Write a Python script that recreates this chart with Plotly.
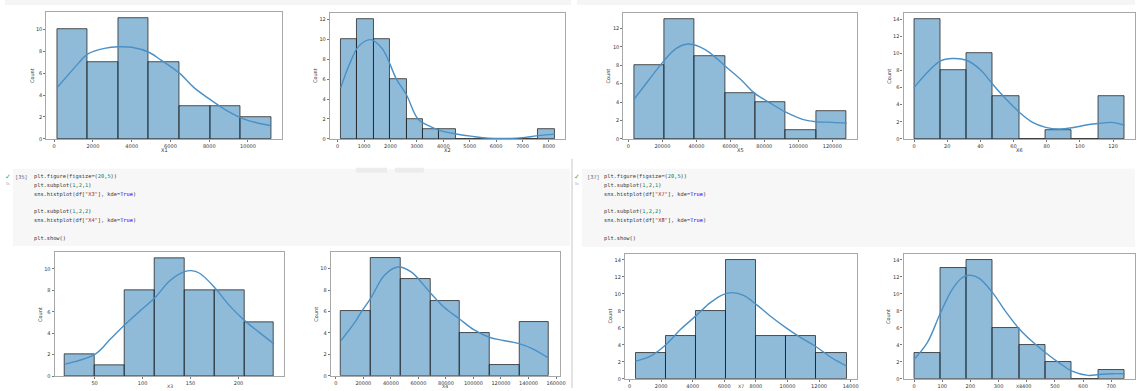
import plotly.graph_objects as go

W, H = 1141, 391

# ---------------- data ----------------
x1_edges = [153, 1730, 3307, 4884, 6461, 8039, 9616, 11193]
x1_counts = [10, 7, 11, 7, 3, 3, 2]
x1_kde_x = [153, 900, 1300, 1738, 2600, 3300, 4000, 4884, 5500, 6461, 7200, 8039, 8800, 9616, 10400, 11193]
x1_kde_y = [4.68, 6.2, 7.0, 7.75, 8.25, 8.4, 8.35, 7.9, 7.2, 6.0, 4.7, 3.6, 2.7, 1.95, 1.5, 1.2]

x2_edges = [113, 736, 1360, 1983, 2606, 3230, 3853, 4476, 5100, 5723, 6346, 6969, 7593, 8216]
x2_counts = [10, 12, 10, 6, 2, 1, 1, 0, 0, 0, 0, 0, 1]
x2_kde_x = [113, 450, 800, 1250, 1700, 2225, 2600, 3040, 3500, 3857, 4485, 5113, 5700, 6500, 7100, 7600, 8216]
x2_kde_y = [5.1, 7.5, 9.3, 9.95, 9.0, 6.0, 4.45, 2.0, 1.25, 0.85, 0.5, 0.25, 0.08, 0.05, 0.15, 0.33, 0.48]

x5_edges = [3300, 21170, 39040, 56910, 74790, 92660, 110530, 128400]
x5_counts = [8, 13, 9, 5, 4, 1, 3]
x5_kde_x = [3300, 12000, 21000, 28000, 35000, 42000, 48000, 57000, 67000, 74000, 83000, 92700, 102000, 110400, 120000, 128400]
x5_kde_y = [4.3, 6.4, 8.5, 9.8, 10.3, 10.0, 9.35, 7.9, 6.3, 5.0, 3.95, 2.9, 2.15, 1.87, 1.8, 1.7]

x6_edges = [0, 15.9, 31.7, 47.6, 63.5, 79.3, 95.2, 111.0, 126.9]
x6_counts = [14, 8, 10, 5, 0, 1, 0, 5]
x6_kde_x = [0, 15.8, 23.7, 31.6, 40, 47.8, 55.7, 63.6, 71.5, 79.4, 87.4, 95.3, 103, 111, 119, 126.9]
x6_kde_y = [6.0, 9.1, 9.4, 9.2, 8.1, 6.3, 4.6, 3.1, 1.93, 1.35, 1.16, 1.3, 1.6, 1.8, 1.93, 1.6]

x3_edges = [19.3, 50.4, 81.5, 112.7, 143.8, 174.9, 206.0, 237.1]
x3_counts = [2, 1, 8, 11, 8, 8, 5]
x3_kde_x = [19.4, 50.7, 66.5, 82.3, 97.5, 113.3, 128.4, 143.9, 150.8, 159.4, 174.9, 190.4, 206.2, 221.3, 237.1]
x3_kde_y = [1.12, 2.05, 3.46, 4.86, 6.1, 7.35, 8.9, 9.75, 9.84, 9.6, 8.3, 6.6, 5.2, 4.1, 3.0]

x4_edges = [3880, 25470, 47060, 68650, 90240, 111830, 133410, 155000]
x4_counts = [6, 11, 9, 7, 4, 1, 5]
x4_kde_x = [3840, 13900, 18700, 25200, 35500, 45100, 54700, 68300, 78700, 89900, 100200, 111500, 121800, 133100, 143400, 154700]
x4_kde_y = [3.3, 5.0, 6.0, 7.2, 9.4, 10.15, 9.7, 7.8, 6.4, 5.3, 4.3, 3.6, 3.3, 3.0, 2.5, 1.65]

x7_edges = [379, 2289, 4198, 6108, 8018, 9928, 11837, 13747]
x7_counts = [3, 5, 8, 14, 5, 5, 3]
x7_kde_x = [379, 1326, 2316, 3221, 4232, 5116, 5958, 6484, 7221, 8021, 8905, 9916, 10842, 11811, 12800, 13747]
x7_kde_y = [2.08, 2.67, 4.05, 5.8, 7.47, 8.97, 9.95, 10.15, 9.83, 8.77, 7.4, 6.0, 4.84, 3.77, 2.48, 1.5]

x8_edges = [0, 93, 187, 280, 374, 467, 560, 654, 747]
x8_counts = [3, 13, 14, 6, 4, 2, 0, 1]
x8_kde_x = [0, 47, 91.8, 135, 170.6, 194, 229, 280, 323.5, 373, 417.6, 467, 514, 561, 617.6, 655, 700, 747]
x8_kde_y = [2.28, 4.25, 7.6, 10.5, 11.9, 12.2, 11.9, 10.1, 8.0, 5.9, 4.44, 3.07, 1.9, 0.9, 0.4, 0.5, 0.6, 0.6]

panel_names = ["X1", "X2", "X5", "X6", "X3", "X4", "X7", "X8"]
x_dticks = [2000, 1000, 20000, 20, 50, 20000, 2000, 100]

left_code = [
    'plt.figure(figsize=(<span style="color:#098658">20</span>,<span style="color:#098658">5</span>))',
    'plt.subplot(<span style="color:#098658">1</span>,<span style="color:#098658">2</span>,<span style="color:#098658">1</span>)',
    'sns.histplot(df[<span style="color:#a31515">"X3"</span>], kde=<span style="color:#0000ff">True</span>)',
    '',
    'plt.subplot(<span style="color:#098658">1</span>,<span style="color:#098658">2</span>,<span style="color:#098658">2</span>)',
    'sns.histplot(df[<span style="color:#a31515">"X4"</span>], kde=<span style="color:#0000ff">True</span>)',
    '',
    'plt.show()',
]
right_code = [
    'plt.figure(figsize=(<span style="color:#098658">20</span>,<span style="color:#098658">5</span>))',
    'plt.subplot(<span style="color:#098658">1</span>,<span style="color:#098658">2</span>,<span style="color:#098658">1</span>)',
    'sns.histplot(df[<span style="color:#a31515">"X7"</span>], kde=<span style="color:#0000ff">True</span>)',
    '',
    'plt.subplot(<span style="color:#098658">1</span>,<span style="color:#098658">2</span>,<span style="color:#098658">2</span>)',
    'sns.histplot(df[<span style="color:#a31515">"X8"</span>], kde=<span style="color:#0000ff">True</span>)',
    '',
    'plt.show()',
]

# ---------------- layout (pixel boxes of each axes) ----------------
boxes = [  # left, right, top, bottom
    (46.7, 283.3, 12.3, 140.0),
    (331.7, 568.3, 13.3, 140.0),
    (626.7, 861.7, 13.3, 140.0),
    (908.3, 1141.0, 13.3, 140.0),
    (55.0, 286.0, 254.3, 379.0),
    (332.5, 562.5, 254.0, 378.7),
    (628.3, 861.7, 256.0, 381.7),
    (908.3, 1141.0, 256.0, 381.7),
]
ytick_sets = [
    [0, 2, 4, 6, 8, 10],
    [0, 2, 4, 6, 8, 10, 12],
    [0, 2, 4, 6, 8, 10, 12],
    [0, 2, 4, 6, 8, 10, 12, 14],
    [0, 2, 4, 6, 8, 10],
    [0, 2, 4, 6, 8, 10],
    [0, 2, 4, 6, 8, 10, 12, 14],
    [0, 2, 4, 6, 8, 10, 12, 14],
]

panels = [
    (x1_edges, x1_counts, x1_kde_x, x1_kde_y),
    (x2_edges, x2_counts, x2_kde_x, x2_kde_y),
    (x5_edges, x5_counts, x5_kde_x, x5_kde_y),
    (x6_edges, x6_counts, x6_kde_x, x6_kde_y),
    (x3_edges, x3_counts, x3_kde_x, x3_kde_y),
    (x4_edges, x4_counts, x4_kde_x, x4_kde_y),
    (x7_edges, x7_counts, x7_kde_x, x7_kde_y),
    (x8_edges, x8_counts, x8_kde_x, x8_kde_y),
]

fig = go.Figure()
layout_axes = {}
annotations = []
shapes = []


def px_x(v):
    return v / W


def px_y(v):
    return 1 - v / H


for i, ((edges, counts, kx, ky), box, name, yt, dt) in enumerate(
        zip(panels, boxes, panel_names, ytick_sets, x_dticks)):
    n = i + 1
    xa = "x" if n == 1 else f"x{n}"
    ya = "y" if n == 1 else f"y{n}"
    centers = [(edges[j] + edges[j + 1]) / 2 for j in range(len(counts))]
    widths = [edges[j + 1] - edges[j] for j in range(len(counts))]
    fig.add_trace(go.Bar(
        x=centers, y=counts, width=widths, xaxis=xa, yaxis=ya,
        marker=dict(color="rgba(31,119,180,0.5)",
                    line=dict(color="rgba(30,30,30,0.75)", width=1)),
        showlegend=False, hoverinfo="skip",
    ))
    fig.add_trace(go.Scatter(
        x=kx, y=ky, xaxis=xa, yaxis=ya, mode="lines",
        line=dict(color="#4a90c6", width=1.4, shape="spline", smoothing=1.0),
        showlegend=False, hoverinfo="skip",
    ))
    span = edges[-1] - edges[0]
    xr = [edges[0] - 0.05 * span, edges[-1] + 0.05 * span]
    yr = [0, 1.05 * max(counts)]
    l, r, t, b = box
    common = dict(showline=True, mirror=True, linecolor="#a8a8a8", linewidth=1.3,
                  ticks="outside", ticklen=2, tickwidth=0.8, tickcolor="#777",
                  tickfont=dict(size=5, color="#333", family="DejaVu Sans"),
                  showgrid=False, zeroline=False, fixedrange=True)
    layout_axes["xaxis" if n == 1 else f"xaxis{n}"] = dict(
        domain=[px_x(l), min(1.0, px_x(r))], range=xr, anchor=ya,
        tick0=0, dtick=dt, tickformat="d", **common)
    layout_axes["yaxis" if n == 1 else f"yaxis{n}"] = dict(
        domain=[px_y(b), px_y(t)], range=yr, anchor=xa, tickvals=yt, **common)
    annotations.append(dict(text="Count", x=px_x(l - 15), y=px_y((t + b) / 2), xref="paper", yref="paper",
                            textangle=-90, showarrow=False, font=dict(size=5, color="#333", family="DejaVu Sans"),
                            xanchor="center", yanchor="middle"))
    bottom_row = b > 300
    annotations.append(dict(text=name, x=px_x((l + min(r, 1141)) / 2),
                            y=px_y(389 if bottom_row else b + 11.5),
                            xref="paper", yref="paper",
                            showarrow=False,
                            font=dict(size=4.6 if bottom_row else 5, color="#333", family="DejaVu Sans"),
                            xanchor="center", yanchor="middle"))


# ---------------- notebook chrome ----------------
def rect(x0, x1, y0, y1, color):
    shapes.append(dict(type="rect", xref="paper", yref="paper", layer="below",
                       x0=px_x(x0), x1=px_x(x1), y0=px_y(y1), y1=px_y(y0),
                       fillcolor=color, line=dict(width=0)))


rect(5, 574, 0, 5, "#f5f5f5")
rect(580, 1141, 0, 5, "#f5f5f5")
rect(13, 573, 170, 248, "#f7f7f7")
rect(585, 1141, 170, 249, "#f7f7f7")
rect(358, 389, 169, 174, "#ececec")
rect(397, 426, 169, 174, "#ececec")
shapes.append(dict(type="line", xref="paper", yref="paper", x0=px_x(575), x1=px_x(575),
                   y0=px_y(391), y1=px_y(160), line=dict(color="#e3e3e3", width=2)))

code_font = dict(family="DejaVu Sans Mono", size=5.3, color="#333")
line_y = [178, 187, 196, 204.5, 213, 222, 231, 240]


def code_cell(x_check, x_num, x_code, num, lines):
    annotations.append(dict(text="✓", x=px_x(x_check), y=px_y(178), xref="paper", yref="paper",
                            showarrow=False, font=dict(size=7, color="#3aa757"), xanchor="center", yanchor="middle"))
    annotations.append(dict(text="0s", x=px_x(x_check), y=px_y(185), xref="paper", yref="paper",
                            showarrow=False, font=dict(size=3.5, color="#999"), xanchor="center", yanchor="middle"))
    annotations.append(dict(text=f"[{num}]", x=px_x(x_num), y=px_y(line_y[0]), xref="paper", yref="paper",
                            showarrow=False, font=dict(family="DejaVu Sans Mono", size=5.3, color="#666"),
                            xanchor="left", yanchor="middle"))
    for txt, yy in zip(lines, line_y):
        if not txt:
            continue
        annotations.append(dict(text=txt, x=px_x(x_code), y=px_y(yy), xref="paper", yref="paper",
                                showarrow=False, font=code_font, xanchor="left", yanchor="middle"))


code_cell(8, 13.5, 32, 35, left_code)
code_cell(580, 588, 605, 37, right_code)

fig.update_layout(
    width=W, height=H, margin=dict(l=0, r=0, t=0, b=0),
    paper_bgcolor="white", plot_bgcolor="white",
    barmode="overlay", bargap=0,
    annotations=annotations, shapes=shapes,
    **layout_axes,
)

fig.write_html("out.html", config={"displayModeBar": False},
               post_script="document.body.style.margin='0';document.body.style.overflow='hidden';")
